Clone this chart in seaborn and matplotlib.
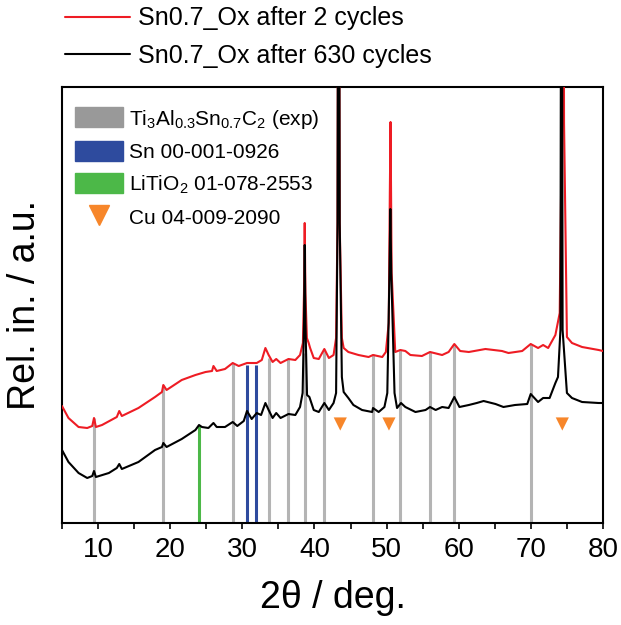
import numpy as np
import pandas as pd
import seaborn as sns
import matplotlib.pyplot as plt
from matplotlib.patches import Patch
from matplotlib.lines import Line2D

# red trace: Sn0.7_Ox after 2 cycles (values in arbitrary units)
red_x = [5.0, 5.9, 7.3, 8.5, 9.2, 9.44, 9.7, 10.55, 12.6, 12.94, 13.3, 15.6, 17.9, 18.86, 19.05, 19.5,
         21.6, 23.5, 24.9, 25.8, 26.0, 26.45, 27.6, 28.67, 29.5, 30.65, 32.0, 32.7, 33.2, 33.65, 34.2,
         34.7, 35.3, 36.4, 37.35, 38.0, 38.4, 38.55, 38.65, 38.75, 38.95, 39.2, 39.4, 39.9, 40.6, 41.37,
         42.0, 42.65, 43.0, 43.2, 43.35, 43.5, 43.8, 44.05, 44.7, 46.1, 47.5, 48.12, 49.4, 49.9, 50.3,
         50.45, 50.55, 50.7, 51.2, 51.9, 52.6, 53.3, 54.9, 56.02, 57.7, 58.6, 59.39, 60.2, 61.4, 63.7,
         66.0, 66.9, 68.8, 69.98, 71.0, 71.7, 72.4, 73.4, 74.0, 74.3, 74.45, 74.6, 75.0, 75.7, 77.1,
         79.4, 80.0]
red_y = [117, 105, 96, 95, 97, 105, 96, 98, 106, 112, 107, 115, 126, 131, 138, 133,
         143, 148, 151, 152, 157, 152, 154, 160, 157, 160, 160, 163, 175, 168, 161,
         164, 160, 164, 163, 168, 180, 230, 300, 230, 185, 180, 175, 165, 164, 174,
         165, 168, 185, 300, 900, 300, 185, 175, 171, 168, 166, 168, 166, 171, 200,
         330, 401, 250, 171, 173, 172, 168, 167, 171, 168, 171, 179, 172, 171, 174,
         172, 170, 172, 179, 175, 178, 175, 188, 210, 400, 900, 400, 186, 180, 176,
         173, 172]

# black trace: Sn0.7_Ox after 630 cycles
black_x = [5.0, 5.9, 7.3, 8.5, 9.2, 9.44, 9.7, 11.5, 12.6, 12.94, 13.3, 15.6, 17.9, 18.86, 19.05, 19.5,
           21.6, 23.5, 24.0, 24.4, 25.3, 26.0, 26.45, 27.6, 28.67, 29.3, 30.2, 30.65, 31.3, 32.0, 32.6,
           33.2, 33.65, 34.2, 34.7, 35.3, 36.4, 37.35, 38.0, 38.36, 38.55, 38.65, 38.75, 38.97, 39.3,
           39.9, 40.6, 41.37, 42.0, 42.65, 43.0, 43.2, 43.35, 43.5, 43.8, 44.05, 44.7, 45.4, 46.6, 48.0,
           48.12, 48.9, 49.7, 50.1, 50.4, 50.52, 50.65, 51.1, 51.45, 52.0, 52.6, 54.0, 55.4, 56.02, 56.8,
           57.7, 58.6, 59.39, 60.1, 61.4, 62.5, 63.45, 65.1, 66.2, 67.8, 69.5, 69.98, 71.0, 71.7, 72.6,
           73.4, 73.76, 74.1, 74.25, 74.4, 75.0, 75.7, 77.1, 79.4, 80.0]
black_y = [73, 61, 50, 45, 47, 52, 46, 50, 55, 59, 54, 61, 73, 76, 80, 76,
           84, 93, 98, 96, 95, 100, 96, 96, 101, 97, 102, 112, 104, 110, 108,
           120, 113, 105, 110, 105, 109, 108, 116, 130, 200, 278, 200, 128, 126,
           113, 111, 120, 113, 120, 130, 300, 900, 300, 146, 131, 125, 118, 113, 111,
           115, 111, 116, 130, 250, 314, 250, 130, 115, 120, 116, 111, 113, 116, 113,
           116, 115, 126, 116, 118, 120, 122, 119, 116, 118, 119, 129, 121, 125, 125,
           140, 146, 193, 900, 193, 130, 125, 121, 120, 120]

# reference patterns
ref_exp_pos = [9.44, 19.05, 28.67, 33.66, 36.38, 38.65, 41.37, 48.12, 51.9, 56.02, 59.39, 69.98]
ref_exp_top = [105, 138, 160, 165, 164, 170, 174, 169, 173, 171, 179, 179]
sn_pos = [30.69, 31.94]
sn_top = [158, 158]
litio2_pos = [23.95]
litio2_top = [98]
cu_pos = [43.58, 50.33, 74.36]
cu_level = [99, 99, 99]

c_red = '#ee1c24'
c_gray = '#b4b4b4'
c_blue = '#2e4b9e'
c_green = '#4cb848'
c_orange = '#f7862a'

sns.set_style('ticks')
plt.rcParams['font.family'] = ['Liberation Sans', 'DejaVu Sans']
plt.rcParams['mathtext.default'] = 'regular'
plt.rcParams['text.color'] = 'black'
plt.rcParams['axes.labelcolor'] = 'black'
plt.rcParams['xtick.color'] = 'black'
plt.rcParams['ytick.color'] = 'black'

fig = plt.figure(figsize=(6.21, 6.25), dpi=100)
ax = fig.add_axes([0.0998, 0.1632, 0.8712, 0.6976])

ax.vlines(ref_exp_pos, 0, ref_exp_top, color=c_gray, lw=2.2, zorder=1)
ax.vlines(sn_pos, 0, sn_top, color=c_blue, lw=2.2, zorder=1)
ax.vlines(litio2_pos, 0, litio2_top, color=c_green, lw=2.2, zorder=1)

df_red = pd.DataFrame({'x': red_x, 'y': red_y})
df_black = pd.DataFrame({'x': black_x, 'y': black_y})
sns.lineplot(data=df_red, x='x', y='y', ax=ax, color=c_red, lw=1.5, sort=False,
             label='Sn0.7_Ox after 2 cycles', zorder=3)
sns.lineplot(data=df_black, x='x', y='y', ax=ax, color='black', lw=1.5, sort=False,
             label='Sn0.7_Ox after 630 cycles', zorder=4)
sns.scatterplot(x=cu_pos, y=cu_level, ax=ax, marker='v', s=90, color=c_orange,
                edgecolor='none', zorder=5, legend=False)

ax.set_xlim(5, 80)
ax.set_ylim(0, 436)
ax.set_xticks(np.arange(10, 81, 10))
ax.set_xticks(np.arange(5, 81, 10), minor=True)
ax.set_yticks([])
ax.tick_params(axis='x', which='both', direction='out', length=4, width=1.2, labelsize=20, pad=6)
for s in ax.spines.values():
    s.set_visible(True)
    s.set_linewidth(1.5)
    s.set_color('black')

ax.set_xlabel('2\u03b8 / deg.', fontsize=27, labelpad=12)
ax.set_ylabel('Rel. in. / a.u.', fontsize=27, labelpad=14)

handles, labels = ax.get_legend_handles_labels()
fig.legend(handles, labels, loc='upper left', bbox_to_anchor=(0.1047, 0.99), frameon=False,
           fontsize=18, handlelength=2.6, handletextpad=0.3, labelspacing=0.55, borderpad=0,
           borderaxespad=0)

ref_handles = [Patch(color='#999999'), Patch(color=c_blue), Patch(color=c_green),
               Line2D([], [], marker='v', ls='none', color=c_orange, markersize=14)]
ref_labels = ['Ti$_3$Al$_{0.3}$Sn$_{0.7}$C$_2$ (exp)', 'Sn 00-001-0926',
              'LiTiO$_2$ 01-078-2553', 'Cu 04-009-2090']
ax.legend(ref_handles, ref_labels, loc='upper left', bbox_to_anchor=(0.024, 0.953), frameon=False,
          fontsize=15, handlelength=2.3, handleheight=1.1, handletextpad=0.3, labelspacing=0.52,
          borderpad=0, borderaxespad=0)

plt.savefig('out.png', dpi=100)
